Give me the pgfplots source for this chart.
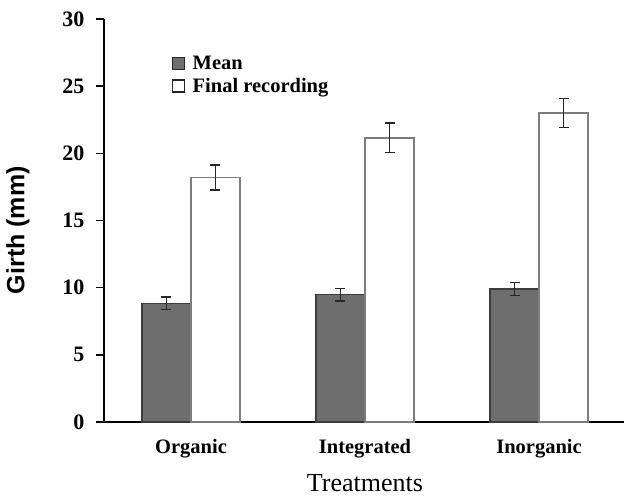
\documentclass[border=0pt]{standalone}
\usepackage{pgfplots}
\pgfplotsset{compat=1.18}
\usepackage{fontspec}
\setmainfont{Liberation Serif}
\newfontfamily\arialfont{Liberation Sans}
\definecolor{meangray}{RGB}{110,110,110}
\definecolor{meanedge}{RGB}{60,60,60}
\definecolor{finaledge}{RGB}{125,125,125}
\begin{document}
\begin{tikzpicture}
\begin{axis}[
  scale only axis,
  width=522pt, height=403pt,
  at={(0,0)}, anchor=south west,
  ybar=0pt, bar width=49pt,
  xmin=-0.5, xmax=2.5,
  ymin=0, ymax=30,
  ytick={0,5,...,30},
  xtick={0,1,2},
  xticklabels={Organic,Integrated,Inorganic},
  major x tick style={draw=none},
  extra x ticks={-0.5,0.5,1.5},
  extra x tick labels={},
  extra x tick style={major tick length=7pt, tick style={line width=1.6pt, black}},
  axis x line*=bottom, axis y line*=left,
  axis line style={line width=1.6pt, black},
  tick align=outside,
  major tick length=8pt,
  ytick style={line width=1.6pt, black},
  /pgf/number format/assume math mode=true,
  xticklabel style={font=\fontsize{20.5}{24}\selectfont\bfseries, yshift=-6pt},
  yticklabel style={font=\fontsize{22}{26}\selectfont\bfseries, xshift=-8pt},
  xlabel={Treatments},
  xlabel style={font=\fontsize{26}{30}\selectfont, at={(axis description cs:0.5,-0.151)}, anchor=center},
  ylabel={Girth (mm)},
  ylabel style={font=\arialfont\bfseries\fontsize{25}{29}\selectfont, at={(axis description cs:-0.165,0.476)}, anchor=center},
  legend style={draw=none, fill=none, at={(axis description cs:0.130,0.913)}, anchor=north west,
    font=\fontsize{20.5}{24}\selectfont\bfseries, row sep=3pt, inner sep=0pt},
  legend cell align=left,
  legend image code/.code={\draw[#1, draw=black!85, line width=1.4pt] (0pt,-6pt) rectangle (12pt,6pt); \path (17pt,0pt);},
  error bars/error bar style={line width=1.3pt, black!85},
  error bars/error mark options={rotate=90, mark size=5pt, line width=1.3pt, black!85},
]
\addplot[fill=meangray, draw=meanedge, line width=1.2pt,
  error bars/.cd, y dir=both, y explicit]
  coordinates {(0,8.83) +- (0,0.47) (1,9.47) +- (0,0.47) (2,9.9) +- (0,0.5)};
\addplot[fill=white, draw=finaledge, line width=1.8pt,
  error bars/.cd, y dir=both, y explicit]
  coordinates {(0,18.2) +- (0,0.93) (1,21.15) +- (0,1.1) (2,23.0) +- (0,1.1)};
\legend{Mean,Final recording}
\end{axis}
\pgfresetboundingbox
\path[use as bounding box] (-104pt,-74pt) rectangle (520pt,422pt);
\end{tikzpicture}
\end{document}
